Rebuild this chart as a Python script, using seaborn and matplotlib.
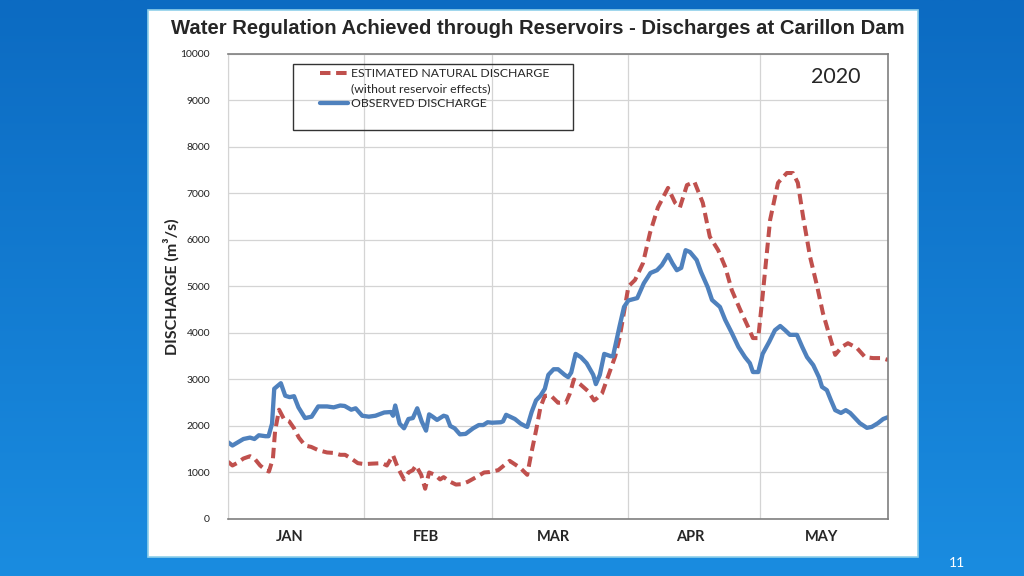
import numpy as np
import pandas as pd
import seaborn as sns
import matplotlib.pyplot as plt
from matplotlib.patches import Rectangle
from matplotlib.lines import Line2D
from matplotlib.colors import LinearSegmentedColormap

# data: day offset from 1 Jan 2020, discharge in m3/s
obs_days = [0, 1, 3.5, 5, 6, 7, 8.5, 9.2, 10, 10.5, 12, 13, 14, 15, 16, 17.5, 19, 20.5, 22.5, 24,
            25.5, 26.5, 28, 29, 30.5, 32, 33.5, 35.5, 37, 37.5, 38, 39, 40, 41, 42, 43, 44, 45,
            45.7, 46.5, 47.5, 49, 49.7, 50.5, 51.5, 52.7, 54, 55.7, 57, 58, 59, 60, 62, 62.5,
            63.2, 64.5, 65.2, 66.5, 67.5, 68, 69, 70, 71, 72, 72.8, 74, 75, 76.5, 77.3, 78, 79,
            80.2, 81.5, 83, 83.6, 84.5, 85.5, 87, 87.5, 89, 90, 91, 93, 94.5, 96, 97.5, 98.6,
            100, 101, 102, 103, 104, 105, 106.5, 107.5, 109, 110, 111.8, 113, 114.5, 116,
            117.5, 118.6, 119.3, 120.5, 121.5, 123, 124.3, 125.5, 126.6, 127.7, 129.3, 130.5,
            131.6, 133, 134.3, 135, 136.1, 137, 138, 139.3, 140.4, 141.4, 142.5, 143.6, 145.2,
            146.3, 147.7, 148.9, 150]
obs_vals = [1650, 1580, 1720, 1750, 1720, 1800, 1780, 1780, 2050, 2800, 2920, 2650, 2620, 2640,
            2400, 2170, 2200, 2420, 2420, 2400, 2440, 2430, 2350, 2380, 2220, 2200, 2220, 2290,
            2300, 2220, 2440, 2050, 1950, 2150, 2170, 2380, 2100, 1900, 2250, 2200, 2130, 2220,
            2200, 2000, 1950, 1820, 1830, 1950, 2020, 2020, 2080, 2070, 2080, 2100, 2240, 2180,
            2150, 2050, 2000, 1980, 2300, 2550, 2650, 2800, 3100, 3220, 3220, 3100, 3050, 3150,
            3550, 3480, 3350, 3100, 2900, 3100, 3550, 3500, 3500, 4150, 4560, 4700, 4750, 5070,
            5290, 5350, 5460, 5680, 5500, 5350, 5400, 5780, 5740, 5570, 5310, 4990, 4710, 4560,
            4280, 4000, 3700, 3480, 3350, 3160, 3160, 3550, 3810, 4060, 4150, 4060, 3960, 3960,
            3700, 3480, 3310, 3050, 2840, 2770, 2560, 2340, 2280, 2340, 2280, 2170, 2060, 1960,
            1980, 2060, 2150, 2190]

nat_days = [0, 1, 2, 3.5, 5, 6, 7.3, 8.6, 9.3, 10.2, 10.7, 11.6, 12.7, 13.9, 15, 16.1, 17.5,
            18.9, 20.5, 22.5, 24, 25.5, 26.6, 28, 29.5, 31, 32.7, 35, 36.1, 37.5, 38.6, 40, 41,
            42, 42.7, 43.9, 44.8, 45.7, 47, 48.2, 49, 50.5, 51.8, 53.2, 54.5, 56.4, 58.2, 59.5,
            61.4, 64, 66.4, 68, 68.9, 70, 71, 72, 73.4, 75, 76.8, 77.7, 78.6, 80, 81.8, 83.2,
            83.9, 85, 86.5, 88, 89, 91, 92.5, 94.3, 95.9, 97.7, 100, 101.6, 102.7, 104.3, 106,
            107.9, 109.5, 111.4, 113, 114.5, 116.4, 118.2, 119.3, 120.5, 121.5, 123.2, 125, 127,
            128.4, 129.5, 130.7, 132.3, 133.9, 135.2, 136.8, 138, 139.5, 140.9, 142.9, 144.8,
            146.6, 148.6, 150]
nat_vals = [1230, 1150, 1200, 1300, 1350, 1300, 1150, 1050, 1020, 1300, 1900, 2350, 2150, 2100,
            1950, 1750, 1580, 1550, 1480, 1430, 1420, 1380, 1380, 1300, 1200, 1180, 1190, 1200,
            1150, 1370, 1100, 850, 1000, 1050, 1150, 950, 650, 1000, 950, 850, 900, 800, 740,
            750, 800, 900, 1000, 1010, 1050, 1250, 1100, 950, 1400, 1900, 2400, 2650, 2650, 2500,
            2500, 2700, 3000, 2900, 2750, 2550, 2600, 2700, 3100, 3500, 3900, 5000, 5140, 5500,
            6150, 6700, 7120, 6800, 6700, 7180, 7250, 6800, 6070, 5780, 5420, 4920, 4500, 4130,
            3890, 3890, 4800, 6430, 7230, 7440, 7440, 7230, 6500, 5630, 5000, 4430, 3910, 3530,
            3700, 3780, 3680, 3480, 3460, 3460, 3420]

months = ["JAN", "FEB", "MAR", "APR", "MAY"]
yticks = list(range(0, 10001, 1000))

start = pd.Timestamp("2020-01-01")
obs = pd.DataFrame({"date": start + pd.to_timedelta(obs_days, unit="D"), "q": obs_vals})
nat = pd.DataFrame({"date": start + pd.to_timedelta(nat_days, unit="D"), "q": nat_vals})

sns.set_style("white")
plt.rcParams["font.family"] = ["Lato", "DejaVu Sans"]

fig = plt.figure(figsize=(10.24, 5.76), dpi=100)

# slide background
bg = fig.add_axes([0, 0, 1, 1], zorder=-10)
grad = np.linspace(0, 1, 256).reshape(-1, 1)
bg.imshow(grad, aspect="auto", cmap=LinearSegmentedColormap.from_list("slide", ["#0c6bc2", "#1a8ce0"]))
bg.axis("off")
fig.patches.append(Rectangle((0.1445, 0.033), 0.752, 0.9496, transform=fig.transFigure,
                             fc="white", ec="#8fd0ea", lw=1.2, zorder=-5))

ax = fig.add_axes([0.2227, 0.099, 0.6445, 0.8073])
ax.set_facecolor("white")

sns.lineplot(data=nat, x="date", y="q", ax=ax, color="#c0504d", lw=2.9, sort=False,
             linestyle=(0, (2.6, 1.4)), dash_capstyle="butt")
sns.lineplot(data=obs, x="date", y="q", ax=ax, color="#4f81bd", lw=3.1, sort=False)

ax.set_ylim(0, 10000)
ax.set_xlim(start, start + pd.Timedelta(days=150))
ax.set_yticks(yticks)
ax.tick_params(axis="y", labelsize=7.5, length=4, width=0.8, color="#888888", pad=9, labelcolor="#222222")

month_starts = pd.date_range("2020-01-01", periods=5, freq="MS")
ax.set_xticks(month_starts)
ax.set_xticklabels([""] * 5)
ax.set_xticks(month_starts + pd.Timedelta(days=14), minor=True)
ax.set_xticklabels(months, minor=True, fontsize=10.5, fontweight="bold")
ax.tick_params(axis="x", which="both", length=0, pad=8)

ax.grid(True, color="#d4d4d4", lw=0.9)
ax.set_axisbelow(True)
for s in ["top", "right", "bottom"]:
    ax.spines[s].set_color("#7f7f7f")
    ax.spines[s].set_linewidth(1.2)
ax.spines["left"].set_color("#d4d4d4")

ax.set_xlabel("")
ax.set_ylabel("DISCHARGE (m³/s)", fontsize=11.5, fontweight="bold", labelpad=0.5)

handles = [Line2D([], [], color="#c0504d", lw=2.9, linestyle=(0, (2.6, 1.4))),
           Line2D([], [], alpha=0),
           Line2D([], [], color="#4f81bd", lw=3.1)]
labels = ["ESTIMATED NATURAL DISCHARGE", "(without reservoir effects)", "OBSERVED DISCHARGE"]
ax.legend(handles, labels, loc="upper left", bbox_to_anchor=(0.125, 0.99), frameon=False,
          fontsize=8.8, handlelength=2.3, handletextpad=0.2, labelspacing=0.33, borderpad=0.3)
ax.add_patch(Rectangle((0.0985, 0.8366), 0.424, 0.142, transform=ax.transAxes,
                       fill=False, ec="#333333", lw=1.0, zorder=5))

ax.text(0.921, 0.95, "2020", transform=ax.transAxes, ha="center", va="center", fontsize=15.5)

fig.text(0.5254, 0.951, "Water Regulation Achieved through Reservoirs - Discharges at Carillon Dam",
         ha="center", va="center", fontsize=14.6, fontweight="bold",
         family=["Liberation Sans", "DejaVu Sans"])
fig.text(0.935, 0.022, "11", color="white", fontsize=10, ha="center", va="center")

fig.savefig("out.png", dpi=100)
